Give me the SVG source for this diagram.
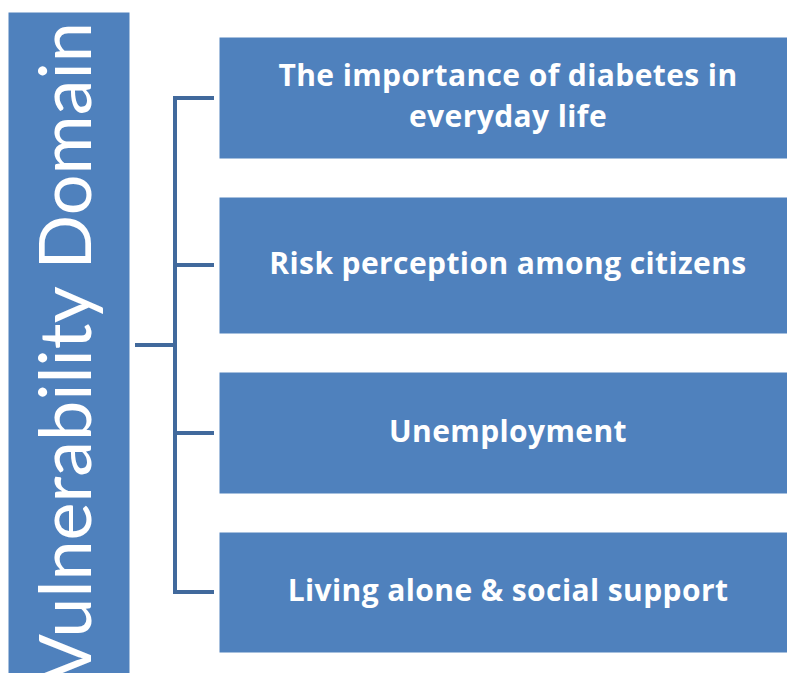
<svg xmlns="http://www.w3.org/2000/svg" width="787" height="673" viewBox="0 0 787 673">
<style>
.box{fill:#4F81BD;stroke:#ffffff;stroke-width:1}
.lbl{font-family:"Open Sans",Lato,"Liberation Sans",sans-serif;font-weight:bold;font-size:30px;letter-spacing:0.4px;fill:#ffffff;text-anchor:middle}
.conn{fill:none;stroke:#41699C;stroke-width:4;stroke-linejoin:miter}
</style>
<rect width="787" height="673" fill="#ffffff"/>
<g id="domain">
<rect class="box" x="8" y="12" width="122" height="670"/>
<text transform="translate(91,22) rotate(-90)" text-anchor="end" font-family="Lato,'Open Sans','Liberation Sans',sans-serif" font-size="72" fill="#ffffff">Vulnerability Domain</text>
</g>
<g id="connectors">
<path class="conn" d="M135,345 H175"/>
<path class="conn" d="M214,98 H175 V592 H214"/>
<path class="conn" d="M175,265 H214"/>
<path class="conn" d="M175,433 H214"/>
</g>
<g id="n1">
<rect class="box" x="219" y="37" width="580" height="122"/>
<text class="lbl" x="508" y="86">The importance of diabetes in</text>
<text class="lbl" x="508" y="127">everyday life</text>
</g>
<g id="n2">
<rect class="box" x="219" y="197" width="580" height="137"/>
<text class="lbl" x="508" y="274">Risk perception among citizens</text>
</g>
<g id="n3">
<rect class="box" x="219" y="372" width="580" height="122"/>
<text class="lbl" x="508" y="442">Unemployment</text>
</g>
<g id="n4">
<rect class="box" x="219" y="532" width="580" height="121"/>
<text class="lbl" x="508" y="601">Living alone &amp; social support</text>
</g>
</svg>
